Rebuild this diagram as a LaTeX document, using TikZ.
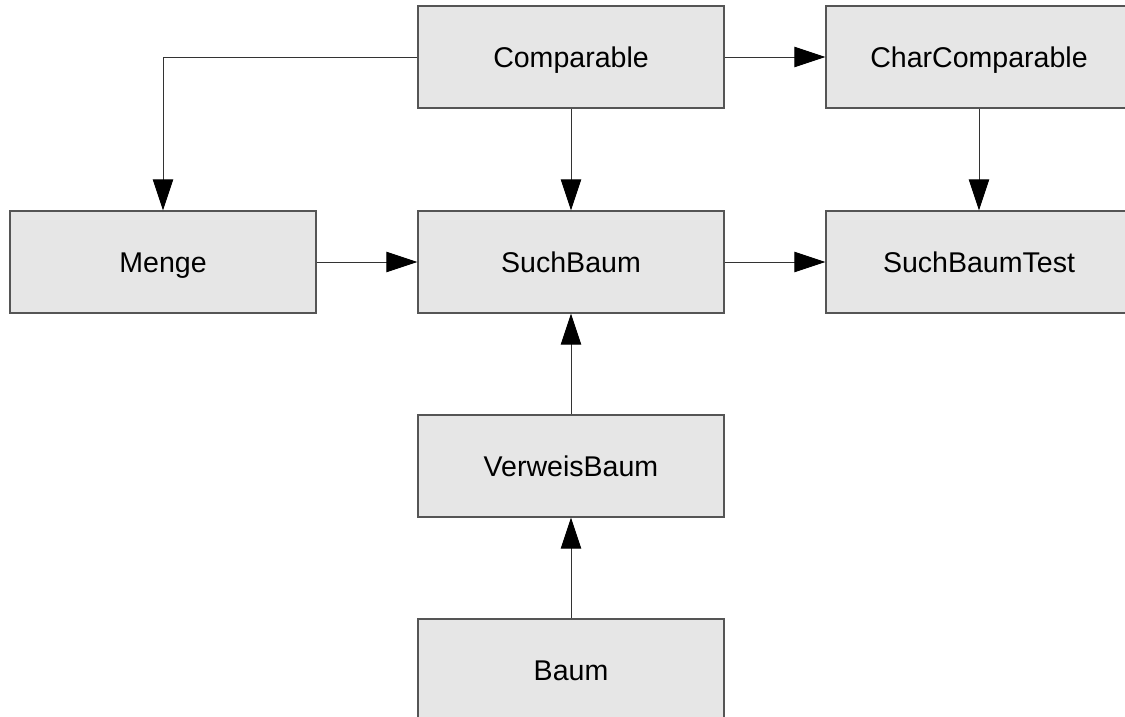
\documentclass[tikz,border=0pt]{standalone}
\usepackage{fontspec}
\setmainfont{Liberation Sans}
\usetikzlibrary{arrows.meta}
\definecolor{boxfill}{HTML}{E6E6E6}
\definecolor{boxline}{HTML}{555555}
\newcommand{\boxwidth}{7.65cm}
\newcommand{\boxheight}{2.55cm}
\newcommand{\tiplength}{22pt}
\newcommand{\tipwidth}{14.5pt}

\begin{document}
\begin{tikzpicture}[x=0.025cm, y=-0.025cm,
  classbox/.style={draw=boxline, fill=boxfill, line width=0.9pt, inner sep=0pt,
    minimum width=\boxwidth, minimum height=\boxheight, font=\fontsize{20.3}{24}\selectfont,
    text height=14.5pt, text depth=0pt},
  uses/.style={draw=black!80, line width=0.7pt, -{Triangle[length=\tiplength, width=\tipwidth, color=black]}}]
\useasboundingbox[fill=white] (0,0) rectangle (1125,717);
\node[classbox] (comparable) at (571, 57) {Comparable};
\node[classbox] (charcomparable) at (979, 57) {CharComparable};
\node[classbox] (menge) at (163, 262) {Menge};
\node[classbox] (suchbaum) at (571, 262) {SuchBaum};
\node[classbox] (suchbaumtest) at (979, 262) {SuchBaumTest};
\node[classbox] (verweisbaum) at (571, 466) {VerweisBaum};
\node[classbox] (baum) at (571, 670) {Baum};
%arrows
\draw[uses] (comparable.west) -| (menge.north);
\draw[uses] (comparable) -- (charcomparable);
\draw[uses] (comparable) -- (suchbaum);
\draw[uses] (charcomparable.south) -- (suchbaumtest.north);
\draw[uses] (menge) -- (suchbaum);
\draw[uses] (suchbaum) -- (suchbaumtest);
\draw[uses] (verweisbaum) -- (suchbaum);
\draw[uses] (baum) -- (verweisbaum);
\end{tikzpicture}
\end{document}
